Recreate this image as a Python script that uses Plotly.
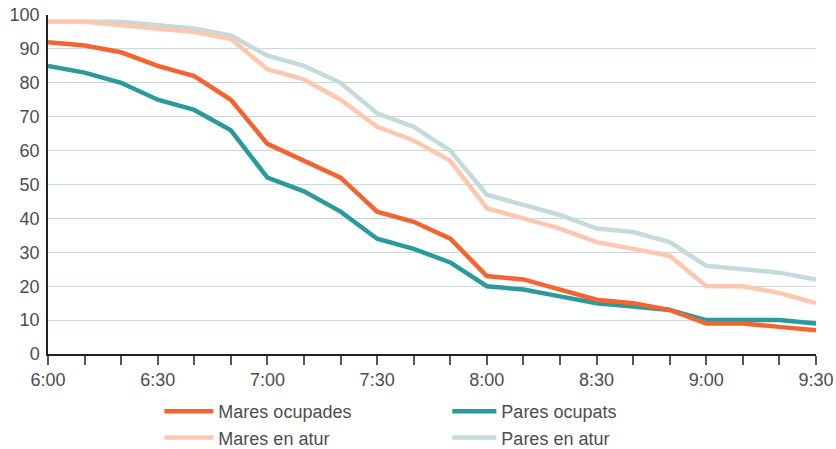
import plotly.graph_objects as go

times = ["6:00", "6:10", "6:20", "6:30", "6:40", "6:50", "7:00", "7:10", "7:20", "7:30", "7:40",
         "7:50", "8:00", "8:10", "8:20", "8:30", "8:40", "8:50", "9:00", "9:10", "9:20", "9:30"]
tick_labels = ["6:00", "6:30", "7:00", "7:30", "8:00", "8:30", "9:00", "9:30"]

mares_ocupades = [92, 91, 89, 85, 82, 75, 62, 57, 52, 42, 39, 34, 23, 22, 19, 16, 15, 13, 9, 9, 8, 7]
pares_ocupats = [85, 83, 80, 75, 72, 66, 52, 48, 42, 34, 31, 27, 20, 19, 17, 15, 14, 13, 10, 10, 10, 9]
mares_atur = [98, 98, 97, 96, 95, 93, 84, 81, 75, 67, 63, 57, 43, 40, 37, 33, 31, 29, 20, 20, 18, 15]
pares_atur = [98, 98, 98, 97, 96, 94, 88, 85, 80, 71, 67, 60, 47, 44, 41, 37, 36, 33, 26, 25, 24, 22]

x = list(range(len(times)))
ticktext = [t if t in tick_labels else "" for t in times]

fig = go.Figure()
# draw order: light lines below, dark on top
fig.add_trace(go.Scatter(x=x, y=pares_atur, mode="lines", name="Pares en atur",
                         line=dict(color="#c5dadb", width=4.5), legend="legend2", legendrank=2))
fig.add_trace(go.Scatter(x=x, y=mares_atur, mode="lines", name="Mares en atur",
                         line=dict(color="#fdc8af", width=4.5), legend="legend", legendrank=2))
fig.add_trace(go.Scatter(x=x, y=pares_ocupats, mode="lines", name="Pares ocupats",
                         line=dict(color="#2a9a9a", width=4.5), legend="legend2", legendrank=1))
fig.add_trace(go.Scatter(x=x, y=mares_ocupades, mode="lines", name="Mares ocupades",
                         line=dict(color="#f26532", width=4.5), legend="legend", legendrank=1))

font = dict(family="Liberation Sans, Arial, sans-serif", size=18, color="#4d4d4d")

fig.update_layout(
    width=836, height=449,
    margin=dict(l=48, r=20, t=15, b=95, autoexpand=False),
    paper_bgcolor="white", plot_bgcolor="white",
    font=font,
    xaxis=dict(range=[0, len(times) - 1], tickmode="array", tickvals=x, ticktext=ticktext,
               showgrid=False, zeroline=False, showline=True, linecolor="#222222", linewidth=1.5,
               ticks="outside", ticklen=9, tickcolor="#555555", tickwidth=1.5,
               tickfont=font, automargin=False),
    yaxis=dict(range=[0, 100], tickmode="array", tickvals=list(range(0, 101, 10)),
               showgrid=True, gridcolor="#c9dadd", gridwidth=1, zeroline=False,
               showline=True, linecolor="#222222", linewidth=1.5, ticks="",
               ticklabelstandoff=3, tickfont=font, automargin=False),
    legend=dict(x=0.145, y=-0.115, xanchor="left", yanchor="top", orientation="v",
                font=font, bgcolor="rgba(0,0,0,0)", traceorder="normal", tracegroupgap=0,
                itemwidth=49),
    legend2=dict(x=0.52, y=-0.115, xanchor="left", yanchor="top", orientation="v",
                 font=font, bgcolor="rgba(0,0,0,0)", traceorder="normal", tracegroupgap=0,
                 itemwidth=44),
)

fig.write_html("out.html", config={"displayModeBar": False},
               post_script="document.body.style.margin='0';document.body.style.overflow='hidden';")
